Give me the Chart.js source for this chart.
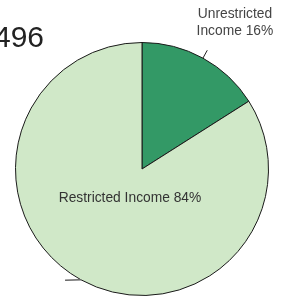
<!DOCTYPE html>
<html>
<head>
<meta charset="utf-8">
<script src="https://cdn.jsdelivr.net/npm/chart.js@4/dist/chart.umd.min.js"></script>
<style>
  html, body { margin: 0; padding: 0; background: #fff; }
  #wrap { width: 290px; height: 297px; position: relative; }
</style>
</head>
<body>
<div id="wrap"><canvas id="pie"></canvas></div>
<script>
// slices, clockwise from 12 o'clock
var categories = ["Unrestricted Income", "Restricted Income"];
var shares = [16, 84];
var sliceColors = ["#339966", "#d0e8c8"];
var titleFragment = "496";

var font = "'Liberation Sans', Arial, sans-serif";

// labels + leader lines, positioned off the arc geometry
var pieLabels = {
  id: "pieLabels",
  afterDraw: function(chart) {
    var ctx = chart.ctx;
    var arcs = chart.getDatasetMeta(0).data;
    ctx.save();

    // cut-off title on the left
    ctx.fillStyle = "#222";
    ctx.font = "30px " + font;
    ctx.textAlign = "right";
    ctx.textBaseline = "alphabetic";
    ctx.fillText(titleFragment, 44, 47);

    ctx.font = "13.8px " + font;
    ctx.textAlign = "center";
    ctx.textBaseline = "middle";

    // small slice: label outside, short leader
    var a = arcs[0];
    var mid = (a.startAngle + a.endAngle) / 2;
    var ex = a.x + Math.cos(mid) * a.outerRadius;
    var ey = a.y + Math.sin(mid) * a.outerRadius;
    ctx.strokeStyle = "#222";
    ctx.lineWidth = 1;
    ctx.beginPath();
    ctx.moveTo(ex, ey);
    ctx.lineTo(ex + Math.cos(mid) * 9, ey + Math.sin(mid) * 9);
    ctx.stroke();
    ctx.fillStyle = "#444";
    ctx.fillText("Unrestricted", ex + 32, 14);
    ctx.fillText("Income " + shares[0] + "%", ex + 32, 31);

    // big slice: label inside, stray leader at the edge
    var b = arcs[1];
    var midB = (b.startAngle + b.endAngle) / 2;
    var bx = b.x + Math.cos(midB) * b.outerRadius;
    var by = b.y + Math.sin(midB) * b.outerRadius;
    ctx.strokeStyle = "#666";
    ctx.lineWidth = 1.5;
    ctx.beginPath();
    ctx.moveTo(bx, by);
    ctx.lineTo(bx - 16, by + 0.5);
    ctx.stroke();
    ctx.fillStyle = "#333";
    ctx.fillText(categories[1] + " " + shares[1] + "%", b.x - 12, b.y + 29);

    ctx.restore();
  }
};

new Chart(document.getElementById("pie"), {
  type: "pie",
  data: {
    labels: categories,
    datasets: [{
      data: shares,
      backgroundColor: sliceColors,
      borderColor: "#1a1a1a",
      borderWidth: 1
    }]
  },
  options: {
    responsive: true,
    maintainAspectRatio: false,
    animation: false,
    layout: { padding: { left: 15, right: 21, top: 42, bottom: 1 } },
    plugins: {
      legend: { display: false },
      tooltip: { enabled: false }
    }
  },
  plugins: [pieLabels]
});
</script>
</body>
</html>
